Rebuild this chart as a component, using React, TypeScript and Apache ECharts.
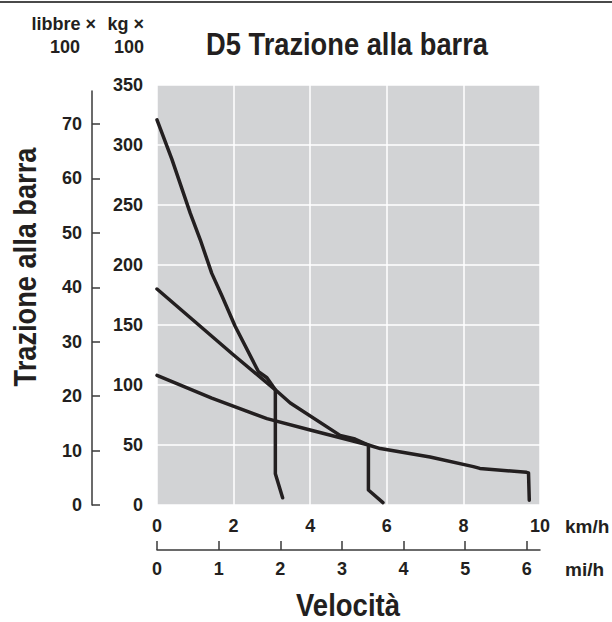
import React, { useEffect, useRef } from "react";
import * as echarts from "echarts";

// Velocità (km/h) and trazione alla barra (kg × 100)
const gear1Kmh = [0, 0.39, 0.87, 1.13, 1.43, 1.7, 2.04, 2.65, 2.87, 3.09, 3.09, 3.28];
const gear1Kg = [321, 288, 243, 221, 193, 174, 149, 111, 106, 96, 26, 6];

const gear2Kmh = [0, 2.0, 3.09, 3.48, 4.78, 5.17, 5.52, 5.52, 5.9];
const gear2Kg = [180, 125, 96, 85, 58, 55, 50, 12.5, 2];

const gear3Kmh = [0, 1.43, 2.87, 4.0, 5.04, 5.52, 5.83, 7.13, 8.26, 8.43, 9.65, 9.7, 9.72];
const gear3Kg = [108, 89, 72, 62.5, 54, 50, 47, 40, 32, 30.5, 27.2, 26.8, 4];

const miTicks = [0, 1, 2, 3, 4, 5, 6];
const lbTicks = [0, 10, 20, 30, 40, 50, 60, 70];

const KM_PER_MI = 1.609344;
const KG_UNITS_PER_LB_UNIT = 4.536;

const FONT = "'Liberation Sans', Arial, sans-serif";
const INK = "#231f20";

const pairs = (xs: number[], ys: number[]) => xs.map((x, i) => [x, ys[i]]);

export default function App() {
  const ref = useRef<HTMLDivElement>(null);
  useEffect(() => {
    if (!ref.current) return;
    const chart = echarts.init(ref.current, undefined, { renderer: "svg" });
    const labelStyle = { fontFamily: FONT, fontWeight: "bold" as const, fontSize: 18, color: INK };
    const textStyle = { fontFamily: FONT, fontWeight: "bold" as const, fontSize: 18, fill: INK };
    const lineStyle = { color: INK, width: 3.5, cap: "round" as const, join: "round" as const };
    const kgMax = 350;
    const plotTop = 85;
    const plotH = 420;
    const lbTop = 91;
    const lbMax = ((kgMax * (plotH - (lbTop - plotTop))) / plotH) / KG_UNITS_PER_LB_UNIT;
    chart.setOption({
      animation: false,
      backgroundColor: "#ffffff",
      grid: [
        { left: 157, top: plotTop, width: 383, height: plotH, show: true, backgroundColor: "#d2d3d5", borderWidth: 0, containLabel: false, outerBoundsMode: "none" },
        { left: 92, top: lbTop, width: 1, height: plotH - (lbTop - plotTop), show: false, containLabel: false, outerBoundsMode: "none" },
      ],
      xAxis: [
        {
          type: "value", gridIndex: 0, min: 0, max: 10, interval: 2,
          axisLine: { show: false }, axisTick: { show: false },
          axisLabel: { ...labelStyle, margin: 12 },
          splitLine: { show: true, lineStyle: { color: "#ffffff", width: 1.5 } },
        },
        {
          type: "value", gridIndex: 0, position: "bottom", offset: 45, min: 0, max: 10 / KM_PER_MI,
          axisLine: { show: true, onZero: false, lineStyle: { color: "#3a3a3a", width: 1.5 } },
          axisTick: { show: true, inside: true, length: 9, customValues: miTicks, lineStyle: { color: "#3a3a3a", width: 1.5 } },
          axisLabel: { ...labelStyle, margin: 10, customValues: miTicks },
          splitLine: { show: false },
        },
        { type: "value", gridIndex: 1, show: false, min: 0, max: 1 },
      ],
      yAxis: [
        {
          type: "value", gridIndex: 0, min: 0, max: kgMax, interval: 50,
          axisLine: { show: false }, axisTick: { show: false },
          axisLabel: { ...labelStyle, margin: 14 },
          splitLine: { show: true, lineStyle: { color: "#ffffff", width: 1.5 } },
        },
        {
          type: "value", gridIndex: 1, position: "left", min: 0, max: lbMax,
          axisLine: { show: true, onZero: false, lineStyle: { color: "#3a3a3a", width: 1.5 } },
          axisTick: { show: true, inside: true, length: 8, customValues: lbTicks, lineStyle: { color: "#3a3a3a", width: 1.5 } },
          axisLabel: { ...labelStyle, margin: 10, customValues: lbTicks },
          splitLine: { show: false },
        },
      ],
      series: [
        { type: "line", xAxisIndex: 0, yAxisIndex: 0, data: pairs(gear1Kmh, gear1Kg), showSymbol: false, lineStyle },
        { type: "line", xAxisIndex: 0, yAxisIndex: 0, data: pairs(gear2Kmh, gear2Kg), showSymbol: false, lineStyle },
        { type: "line", xAxisIndex: 0, yAxisIndex: 0, data: pairs(gear3Kmh, gear3Kg), showSymbol: false, lineStyle },
      ],
      graphic: [
        { type: "line", shape: { x1: 0, y1: 2, x2: 612, y2: 2 }, style: { stroke: "#4a4a4a", lineWidth: 2 } },
        {
          type: "text", x: 347, y: 44, scaleX: 0.88,
          style: { text: "D5 Trazione alla barra", ...textStyle, fontSize: 31, textAlign: "center", textVerticalAlign: "middle" },
        },
        { type: "text", x: 96, y: 24, style: { text: "libbre ×", ...textStyle, textAlign: "right", textVerticalAlign: "middle" } },
        { type: "text", x: 80, y: 47, style: { text: "100", ...textStyle, textAlign: "right", textVerticalAlign: "middle" } },
        { type: "text", x: 144, y: 24, style: { text: "kg ×", ...textStyle, textAlign: "right", textVerticalAlign: "middle" } },
        { type: "text", x: 144, y: 47, style: { text: "100", ...textStyle, textAlign: "right", textVerticalAlign: "middle" } },
        { type: "text", x: 565, y: 526, style: { text: "km/h", ...textStyle, fontSize: 19, textAlign: "left", textVerticalAlign: "middle" } },
        { type: "text", x: 565, y: 569, style: { text: "mi/h", ...textStyle, fontSize: 19, textAlign: "left", textVerticalAlign: "middle" } },
        {
          type: "text", x: 348, y: 605, scaleX: 0.86,
          style: { text: "Velocità", ...textStyle, fontSize: 32, textAlign: "center", textVerticalAlign: "middle" },
        },
        {
          type: "text", x: 25, y: 267, rotation: Math.PI / 2, scaleX: 0.85,
          style: { text: "Trazione alla barra", ...textStyle, fontSize: 32, textAlign: "center", textVerticalAlign: "middle" },
        },
      ],
    });
    return () => chart.dispose();
  }, []);
  return <div ref={ref} style={{ position: "absolute", left: 0, top: 0, width: 612, height: 622 }} />;
}
